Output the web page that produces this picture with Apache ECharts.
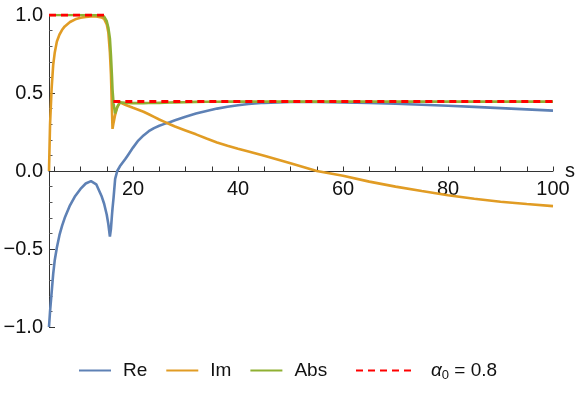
<!DOCTYPE html>
<html>
<head>
<meta charset="utf-8">
<script src="https://cdn.jsdelivr.net/npm/echarts@6/dist/echarts.min.js"></script>
<style>html,body{margin:0;padding:0;background:#fff}#c{width:581px;height:396px}</style>
</head>
<body>
<div id="c"></div>
<script>
const S   = [4, 4.2, 4.5, 4.8, 5.1, 5.5, 6, 6.5, 7, 8, 9, 10, 11, 12, 13, 14, 14.5, 15, 15.3, 15.6, 15.8, 16, 16.1, 16.3, 16.6, 17, 17.5, 18.5, 19, 20, 21, 22, 23, 24, 25, 26, 27, 28, 30, 32, 34, 36, 38, 40, 42, 45, 50, 55, 60, 65, 70, 75, 80, 85, 90, 95, 100];
const RE  = [-1.0, -0.9, -0.78, -0.66, -0.57, -0.49, -0.41, -0.35, -0.30, -0.22, -0.16, -0.115, -0.08, -0.065, -0.085, -0.16, -0.21, -0.28, -0.34, -0.42, -0.37, -0.28, -0.24, -0.17, -0.05, 0.0, 0.03, 0.075, 0.1, 0.15, 0.195, 0.228, 0.255, 0.275, 0.29, 0.302, 0.313, 0.325, 0.348, 0.368, 0.385, 0.4, 0.412, 0.422, 0.43, 0.437, 0.442, 0.442, 0.44, 0.436, 0.431, 0.425, 0.418, 0.411, 0.403, 0.395, 0.387];
const IM  = [0, 0.3, 0.53, 0.68, 0.76, 0.83, 0.875, 0.905, 0.927, 0.955, 0.972, 0.982, 0.988, 0.99, 0.99, 0.985, 0.975, 0.94, 0.89, 0.76, 0.62, 0.38, 0.27, 0.31, 0.36, 0.41, 0.44, 0.425, 0.418, 0.405, 0.393, 0.38, 0.364, 0.347, 0.33, 0.315, 0.3, 0.285, 0.26, 0.235, 0.208, 0.183, 0.162, 0.143, 0.125, 0.098, 0.05, 0.0, -0.03, -0.068, -0.1, -0.128, -0.155, -0.178, -0.197, -0.212, -0.225];
const ABS = [1, 1, 1, 1, 1, 1, 1, 1, 1, 1, 1, 1, 1, 1, 0.998, 0.995, 0.99, 0.96, 0.92, 0.85, 0.74, 0.6, 0.52, 0.43, 0.37, 0.41, 0.44, 0.437, 0.436, 0.435, 0.435, 0.435, 0.436, 0.436, 0.437, 0.438, 0.439, 0.44, 0.441, 0.443, 0.444, 0.444, 0.445, 0.445, 0.445, 0.445, 0.445, 0.445, 0.445, 0.445, 0.445, 0.445, 0.445, 0.445, 0.445, 0.445, 0.445];
const REF_S = [4, 15, 15.6, 16.25, 100];
const REF_V = [1, 1, null, 0.445, 0.445];
const X_LABELS = [20, 40, 60, 80, 100];
const X_TICKS = [5, 10, 15, 20, 25, 30, 35, 40, 45, 50, 55, 60, 65, 70, 75, 80, 85, 90, 95, 100];
const NAMES = ['Re', 'Im', 'Abs', 'alpha'];

const pairs = (xs, ys) => xs.map((x, i) => [x, ys[i] === null ? '-' : ys[i]]);
const FONT = 'Liberation Sans, Arial, sans-serif';
const AX = '#333';

const chart = echarts.init(document.getElementById('c'), null, {renderer: 'canvas'});
const lineSeries = (name, data, color, extra) => Object.assign({
  name, type: 'line', data, showSymbol: false, symbol: 'none', xAxisIndex: 0, yAxisIndex: 0,
  lineStyle: {color, width: 2.6}, itemStyle: {color}, animation: false, z: 2
}, extra || {});

chart.setOption({
  animation: false,
  grid: [
    {left: 49, right: 28, top: 15, bottom: 69, outerBoundsMode: 'none', containLabel: false},
    {left: 49, right: 28, top: 15, bottom: 225, outerBoundsMode: 'none', containLabel: false}
  ],
  xAxis: [{
    gridIndex: 0, type: 'value', min: 4, max: 100,
    axisLine: {show: false}, axisTick: {show: false}, axisLabel: {show: false}, splitLine: {show: false}
  }, {
    gridIndex: 1, type: 'value', min: 4, max: 100, position: 'bottom',
    name: 's', nameLocation: 'end', nameGap: 12, nameMoveOverlap: false,
    nameTextStyle: {fontSize: 20, color: '#111', fontFamily: FONT},
    axisLine: {show: true, onZero: false, lineStyle: {color: AX, width: 1}},
    axisTick: {show: true, inside: true, length: 4.5, customValues: X_TICKS, lineStyle: {color: AX}},
    axisLabel: {customValues: X_LABELS, fontSize: 20, color: '#111', fontFamily: FONT, margin: 8},
    splitLine: {show: false}
  }],
  yAxis: [{
    gridIndex: 0, type: 'value', min: -1, max: 1, interval: 0.5,
    axisLine: {show: true, onZero: false, lineStyle: {color: AX, width: 1}},
    axisTick: {show: true, inside: true, length: 6, lineStyle: {color: AX}},
    minorTick: {show: true, splitNumber: 5, length: 3.5, lineStyle: {color: '#555'}},
    axisLabel: {
      fontSize: 20, color: '#111', fontFamily: FONT, margin: 6,
      formatter: v => (v < 0 ? '\u2212' : '') + Math.abs(v).toFixed(1)
    },
    splitLine: {show: false}
  }, {
    gridIndex: 1, type: 'value', min: 0, max: 1, show: false
  }],
  legend: [{
    data: NAMES.slice(0, 3), left: 78, top: 361, padding: 0, orient: 'horizontal',
    itemWidth: 32, itemHeight: 20, itemGap: 18,
    itemStyle: {opacity: 0},
    textStyle: {fontSize: 19, color: '#111', fontFamily: FONT, padding: [0, 0, 0, 7]}
  }, {
    data: ['alpha'], left: 355, top: 361, padding: 0,
    itemWidth: 58, itemHeight: 20,
    itemStyle: {opacity: 0},
    formatter: () => '{i|α}{sub|0}{t| = 0.8}',
    textStyle: {
      fontSize: 19, color: '#111', fontFamily: FONT, padding: [0, 0, 0, 12],
      rich: {
        i: {fontSize: 19, fontStyle: 'italic', fontFamily: FONT, color: '#111', lineHeight: 22},
        sub: {fontSize: 13, fontFamily: FONT, color: '#111', verticalAlign: 'bottom', lineHeight: 12},
        t: {fontSize: 19, fontFamily: FONT, color: '#111', lineHeight: 22}
      }
    }
  }],
  series: [
    lineSeries('Re', pairs(S, RE), '#5E81B5'),
    lineSeries('Im', pairs(S, IM), '#E19C24'),
    lineSeries('Abs', pairs(S, ABS), '#8FB032'),
    lineSeries('alpha', pairs(REF_S, REF_V), '#FF0000', {
      lineStyle: {color: '#FF0000', width: 3, type: [7, 5]}, connectNulls: false, z: 3
    })
  ]
});
</script>
</body>
</html>
